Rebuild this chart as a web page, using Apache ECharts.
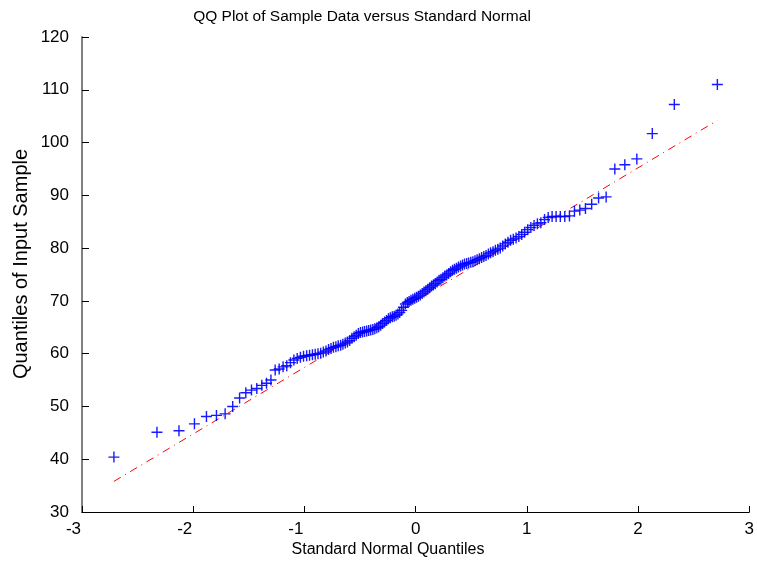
<!DOCTYPE html>
<html>
<head>
<meta charset="utf-8">
<script src="https://cdn.jsdelivr.net/npm/echarts@6/dist/echarts.min.js"></script>
<style>
html,body{margin:0;padding:0;background:#fff;}
#chart{width:757px;height:563px;}
</style>
</head>
<body>
<div id="chart"></div>
<script>
const normalQuantiles = [
-2.713,-2.326,-2.128,-1.989,-1.881,-1.791,-1.713,-1.645,-1.583,-1.527,
-1.476,-1.428,-1.383,-1.341,-1.301,-1.263,-1.227,-1.192,-1.159,-1.126,
-1.095,-1.065,-1.036,-1.008,-0.980,-0.954,-0.928,-0.903,-0.878,-0.854,
-0.830,-0.806,-0.783,-0.761,-0.739,-0.717,-0.696,-0.674,-0.654,-0.633,
-0.613,-0.593,-0.573,-0.553,-0.534,-0.515,-0.496,-0.477,-0.459,-0.440,
-0.422,-0.404,-0.385,-0.367,-0.349,-0.332,-0.314,-0.297,-0.279,-0.262,
-0.245,-0.228,-0.210,-0.193,-0.176,-0.159,-0.143,-0.126,-0.109,-0.092,
-0.075,-0.059,-0.042,-0.025,-0.008,
0.008,0.025,0.042,0.059,0.075,0.092,0.109,0.126,0.143,0.159,
0.176,0.193,0.210,0.228,0.245,0.262,0.279,0.297,0.314,0.332,
0.349,0.367,0.385,0.404,0.422,0.440,0.459,0.477,0.496,0.515,
0.534,0.553,0.573,0.593,0.613,0.633,0.654,0.674,0.696,0.717,
0.739,0.761,0.783,0.806,0.830,0.854,0.878,0.903,0.928,0.954,
0.980,1.008,1.036,1.065,1.095,1.126,1.159,1.192,1.227,1.263,
1.301,1.341,1.383,1.428,1.476,1.527,1.583,1.645,1.713,1.791,
1.881,1.989,2.128,2.326,2.713
];
// Sorted sample values (quantiles of input sample)
const sampleQuantiles = [
40.4,45.1,45.4,46.7,48.1,48.3,48.6,50.0,51.6,52.6,
53.1,53.4,54.0,54.4,55.0,56.9,57.1,57.5,57.7,58.3,
58.8,59.1,59.3,59.5,59.6,59.7,59.8,59.9,60.0,60.1,
60.3,60.5,60.8,61.0,61.2,61.3,61.5,61.6,61.8,62.0,
62.2,62.5,62.9,63.2,63.5,63.8,64.0,64.1,64.2,64.3,
64.4,64.5,64.6,64.7,64.9,65.1,65.4,65.7,66.0,66.3,
66.6,66.8,67.0,67.1,67.3,67.5,67.8,68.2,68.8,69.4,
69.7,69.9,70.1,70.3,70.5,70.7,70.9,71.1,71.4,71.7,
71.9,72.2,72.5,72.8,73.0,73.3,73.6,73.9,74.1,74.4,
74.7,74.9,75.2,75.5,75.8,76.0,76.2,76.4,76.6,76.8,
77.0,77.1,77.2,77.3,77.4,77.6,77.8,78.0,78.2,78.4,
78.6,78.9,79.1,79.3,79.6,79.8,80.0,80.4,80.8,81.1,
81.5,81.7,81.9,82.2,82.6,83.0,83.5,83.9,84.3,84.6,
84.8,85.4,85.8,86.0,86.0,86.0,86.0,86.1,87.0,87.2,
87.5,88.3,89.5,89.7,95.0,95.8,96.9,101.7,107.2,111.0
];
// Reference line endpoints
const refLineX = [-2.713, 2.713];
const refLineY = [35.8, 104.2];
// Axis ranges
const xRange = [-3, 3];
const yRange = [30, 120];
const titleText = 'QQ Plot of Sample Data versus Standard Normal';
const xLabelText = 'Standard Normal Quantiles';
const yLabelText = 'Quantiles of Input Sample';

const chart = echarts.init(document.getElementById('chart'), null, {renderer: 'canvas'});
const font = "'Liberation Sans', Arial, Helvetica, sans-serif";
const plusPath = 'path://M0,4.8 H11 V6.2 H0 Z M4.8,0 H6.2 V11 H4.8 Z';

chart.setOption({
  animation: false,
  backgroundColor: '#ffffff',
  grid: {left: 82, right: 3, top: 37, bottom: 51, containLabel: false},
  xAxis: {
    type: 'value', min: xRange[0], max: xRange[1], interval: 1,
    axisLine: {show: true, onZero: false, lineStyle: {color: '#000', width: 1}},
    axisTick: {show: true, inside: true, length: 6, lineStyle: {color: '#000'}},
    axisLabel: {
      color: '#000', fontFamily: font, fontSize: 17, margin: 9,
      formatter: function (v) { return v < 0 ? '{n|' + v + '}' : String(v); },
      rich: {n: {fontFamily: font, fontSize: 17, color: '#000', padding: [0, 17, 0, 0]}}
    },
    splitLine: {show: false}
  },
  yAxis: {
    type: 'value', min: yRange[0], max: yRange[1], interval: 10,
    axisLine: {show: true, onZero: false, lineStyle: {color: '#808080', width: 2}},
    axisTick: {show: true, inside: true, length: 7, lineStyle: {color: '#000'}},
    axisLabel: {color: '#000', fontFamily: font, fontSize: 17, margin: 13},
    splitLine: {show: false}
  },
  graphic: [
    {type: 'text', x: 362, y: 17, style: {text: titleText, fill: '#000', font: '15.5px ' + font, textAlign: 'center', textVerticalAlign: 'middle'}},
    {type: 'text', x: 388, y: 550, style: {text: xLabelText, fill: '#000', font: '16px ' + font, textAlign: 'center', textVerticalAlign: 'middle'}},
    {type: 'text', x: 21, y: 264, rotation: Math.PI / 2, style: {text: yLabelText, fill: '#000', font: '20px ' + font, textAlign: 'center', textVerticalAlign: 'middle'}}
  ],
  series: [
    {
      type: 'line',
      data: refLineX.map((x, i) => [x, refLineY[i]]),
      symbol: 'none',
      lineStyle: {color: '#ff0000', width: 1, type: [8, 5, 1, 5]},
      z: 1
    },
    {
      type: 'scatter',
      data: normalQuantiles.map((x, i) => [x, sampleQuantiles[i]]),
      symbol: plusPath,
      symbolSize: 11,
      itemStyle: {color: '#0000ff', opacity: 0.9},
      z: 2
    }
  ]
});
</script>
</body>
</html>
